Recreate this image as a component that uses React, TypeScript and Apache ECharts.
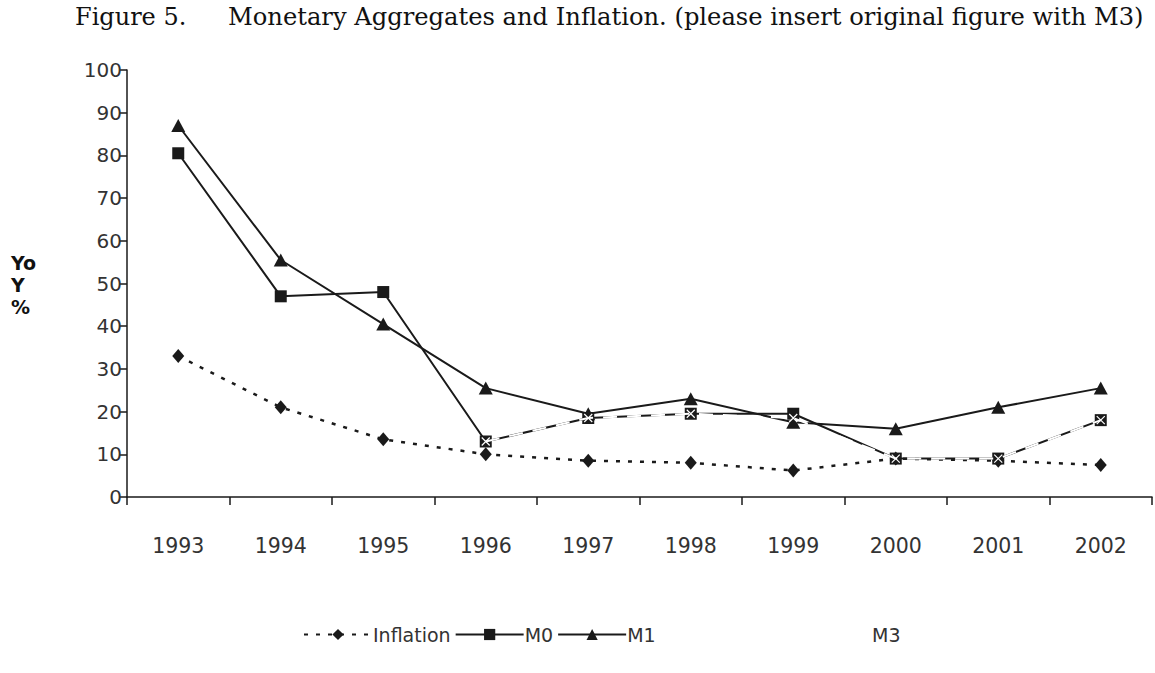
import React, { useEffect, useRef } from "react";
import * as echarts from "echarts";

const years = ["1993", "1994", "1995", "1996", "1997", "1998", "1999", "2000", "2001", "2002"];
const inflation = [33, 21, 13.5, 10, 8.5, 8, 6.2, 9, 8.5, 7.5];
const m0 = [80.5, 47, 48, 13, 18.5, 19.5, 19.5, 9, 9, 18];
const m1 = [87, 55.5, 40.5, 25.5, 19.5, 23, 17.5, 16, 21, 25.5];
const m3 = [null, null, null, 13, 18.5, 19.5, 18.5, 9, 9, 18];
const yTicks = { min: 0, max: 100, interval: 10 };

const INK = "#1a1a1a";
const LABEL = "#333333";
const SANS = "'DejaVu Sans'";

export default function App() {
  const ref = useRef<HTMLDivElement>(null);
  useEffect(() => {
    if (!ref.current) return;
    const chart = echarts.init(ref.current, null, { renderer: "svg" });
    chart.setOption({
      animation: false,
      backgroundColor: "#ffffff",
      grid: { left: 127, right: 3, top: 70, bottom: 176 },
      graphic: [
        {
          type: "text",
          left: 75,
          top: 5,
          style: { text: "Figure 5.", font: "24px 'DejaVu Serif'", fill: "#111" },
        },
        {
          type: "text",
          left: 228,
          top: 5,
          style: {
            text: "Monetary Aggregates and Inflation. (please insert original figure with M3)",
            font: "24.2px 'DejaVu Serif'",
            fill: "#111",
          },
        },
        {
          type: "text",
          left: 11,
          top: 252,
          style: {
            text: "Yo\nY\n%",
            font: "bold 19px 'DejaVu Sans'",
            lineHeight: 22,
            fill: "#111",
          },
        },
      ],
      xAxis: {
        type: "category",
        data: years,
        boundaryGap: true,
        axisLine: { lineStyle: { color: INK, width: 1.5 } },
        axisTick: { show: true, length: 8, interval: 0, lineStyle: { color: INK, width: 1.5 } },
        axisLabel: { color: LABEL, fontSize: 20.5, fontFamily: SANS, margin: 38 },
        splitLine: { show: false },
      },
      yAxis: {
        type: "value",
        min: yTicks.min,
        max: yTicks.max,
        interval: yTicks.interval,
        axisLine: { show: true, lineStyle: { color: INK, width: 1.5 } },
        axisTick: { show: true, length: 7, lineStyle: { color: INK, width: 1.5 } },
        axisLabel: { color: LABEL, fontSize: 20, fontFamily: SANS, margin: 5 },
        splitLine: { show: false },
      },
      legend: [
        {
          data: ["Inflation", "M0", "M1"],
          left: 298,
          top: 620,
          itemWidth: 68,
          itemHeight: 14,
          itemGap: 4,
          textStyle: { color: LABEL, fontSize: 19, fontFamily: SANS, padding: [0, 0, 0, -4] },
        },
        {
          data: ["M3"],
          left: 797,
          top: 620,
          itemWidth: 68,
          itemHeight: 14,
          textStyle: { color: LABEL, fontSize: 19, fontFamily: SANS, padding: [0, 0, 0, -4] },
        },
      ],
      series: [
        {
          name: "Inflation",
          type: "line",
          data: inflation,
          symbol: "diamond",
          symbolSize: [12, 14],
          itemStyle: { color: INK },
          lineStyle: { color: INK, width: 2.5, type: [4, 8] },
          z: 2,
        },
        {
          name: "M0",
          type: "line",
          data: m0,
          symbol: "rect",
          symbolSize: 12,
          itemStyle: { color: INK },
          lineStyle: { color: INK, width: 2 },
          z: 3,
        },
        {
          name: "M1",
          type: "line",
          data: m1,
          symbol: "triangle",
          symbolSize: [14, 13],
          itemStyle: { color: INK },
          lineStyle: { color: INK, width: 2 },
          z: 4,
        },
        {
          name: "M3",
          type: "line",
          data: m3,
          symbol: "path://M0,0 L10,10 M10,0 L0,10",
          symbolSize: 8,
          itemStyle: { color: "#ffffff", borderColor: "#ffffff", borderWidth: 1.2 },
          lineStyle: { color: "#ffffff", width: 2, type: [14, 10] },
          z: 5,
        },
      ],
    });
    return () => chart.dispose();
  }, []);
  return (
    <div
      ref={ref}
      style={{ position: "fixed", left: 0, top: 0, width: 1155, height: 673, background: "#fff" }}
    />
  );
}
